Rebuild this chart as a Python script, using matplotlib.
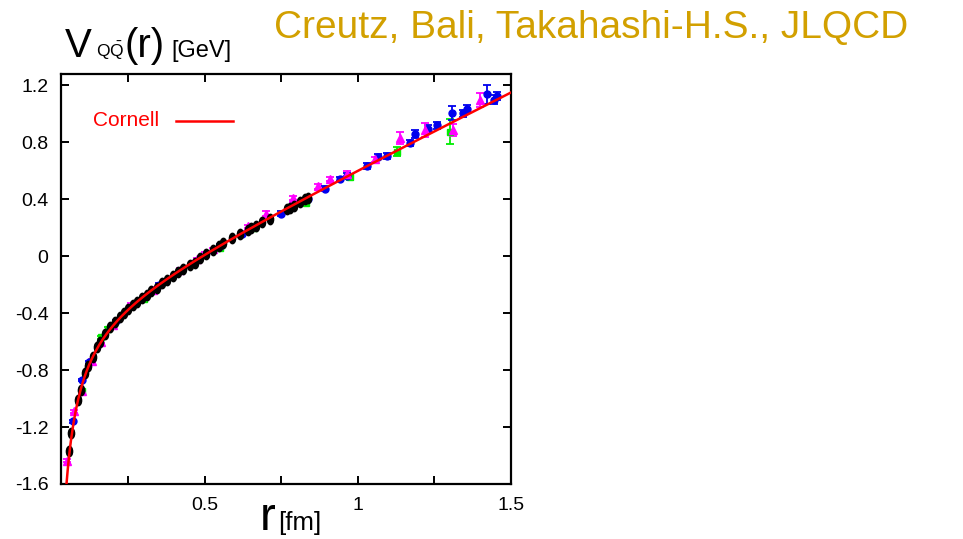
import numpy as np
import matplotlib
matplotlib.use("Agg")
import matplotlib.pyplot as plt
from matplotlib.markers import MarkerStyle
from matplotlib.transforms import Affine2D

plt.rcParams['font.family'] = ['Liberation Sans', 'DejaVu Sans']
plt.rcParams['mathtext.fontset'] = 'custom'
plt.rcParams['mathtext.rm'] = 'Liberation Sans'
plt.rcParams['mathtext.it'] = 'Liberation Sans'

# static quark potential, r in fm, V in GeV
r_black = [0.057, 0.064, 0.084, 0.094, 0.108, 0.118, 0.135, 0.146, 0.156, 0.173,
           0.19, 0.205, 0.222, 0.237, 0.25, 0.265, 0.277, 0.293, 0.31, 0.325,
           0.342, 0.36, 0.375, 0.396, 0.413, 0.43, 0.45, 0.467, 0.484, 0.505,
           0.527, 0.545, 0.56, 0.59, 0.615, 0.64, 0.652, 0.668, 0.686, 0.712,
           0.767, 0.778, 0.79, 0.81, 0.826, 0.837]
V_black = [-1.37, -1.24, -1.01, -0.94, -0.82, -0.77, -0.71, -0.64, -0.60, -0.545,
           -0.50, -0.465, -0.43, -0.40, -0.37, -0.345, -0.32, -0.29, -0.27, -0.245,
           -0.22, -0.19, -0.165, -0.137, -0.11, -0.09, -0.06, -0.045, -0.01, 0.015,
           0.045, 0.07, 0.09, 0.125, 0.155, 0.185, 0.195, 0.215, 0.24, 0.262,
           0.33, 0.34, 0.355, 0.38, 0.40, 0.41]

r_blue = [0.07, 0.097, 0.122, 0.21, 0.35, 0.55, 0.62, 0.75, 0.837, 0.892,
          0.94, 0.963, 1.028, 1.066, 1.094, 1.17, 1.186, 1.23, 1.257, 1.306,
          1.344, 1.355, 1.423, 1.445, 1.453]
V_blue = [-1.16, -0.87, -0.745, -0.455, -0.20, 0.075, 0.155, 0.30, 0.405, 0.475,
          0.54, 0.565, 0.635, 0.70, 0.705, 0.795, 0.86, 0.895, 0.92, 1.005,
          1.005, 1.035, 1.137, 1.10, 1.125]
err_blue = [0.01, 0.01, 0.01, 0.01, 0.01, 0.012, 0.012, 0.015, 0.015, 0.015,
            0.015, 0.018, 0.02, 0.02, 0.02, 0.02, 0.03, 0.025, 0.025, 0.05,
            0.025, 0.025, 0.065, 0.03, 0.03]

r_mag = [0.051, 0.073, 0.1, 0.13, 0.16, 0.2, 0.26, 0.33, 0.42, 0.473,
         0.50, 0.527, 0.641, 0.70, 0.789, 0.87, 0.908, 0.963, 1.055, 1.137,
         1.219, 1.31, 1.40]
V_mag = [-1.435, -1.09, -0.95, -0.735, -0.60, -0.485, -0.34, -0.235, -0.095, -0.02,
         0.02, 0.05, 0.21, 0.30, 0.41, 0.49, 0.54, 0.58, 0.68, 0.83,
         0.886, 0.886, 1.10]
err_mag = [0.01, 0.01, 0.01, 0.01, 0.01, 0.01, 0.01, 0.01, 0.01, 0.01,
           0.01, 0.01, 0.012, 0.015, 0.015, 0.015, 0.015, 0.02, 0.02, 0.04,
           0.05, 0.04, 0.05]

r_green = [0.097, 0.162, 0.185, 0.30, 0.55, 0.66, 0.83, 0.974, 1.126, 1.30]
V_green = [-0.945, -0.57, -0.51, -0.30, 0.06, 0.195, 0.375, 0.555, 0.735, 0.875]
err_green = [0.01, 0.01, 0.01, 0.01, 0.01, 0.012, 0.015, 0.02, 0.03, 0.09]

# Cornell fit: V(r) = -A/r + sigma*r + C
A_coul = 0.06
sigma = 1.06
C_const = -0.40

xticks = [0.25, 0.5, 0.75, 1.0, 1.25, 1.5]
xticklabels = ['', '0.5', '', '1', '', '1.5']
yticks = [-1.6, -1.2, -0.8, -0.4, 0.0, 0.4, 0.8, 1.2]
yticklabels = ['-1.6', '-1.2', '-0.8', '-0.4', '0', '0.4', '0.8', '1.2']

W, H = 963, 539
fig = plt.figure(figsize=(W / 100, H / 100), dpi=100)
ax = fig.add_axes([61 / W, 1 - 484 / H, 450 / W, 410 / H])


def fx(px):
    return px / W


def fy(py):
    return 1 - py / H


eb = dict(linestyle='none', elinewidth=1.3, capsize=3, capthick=1.3, zorder=3)
ax.errorbar(r_green, V_green, yerr=err_green, marker='s', ms=4.5,
            color='#00ee00', **eb)
ax.errorbar(r_blue, V_blue, yerr=err_blue, marker='o', ms=5,
            color='#0000ee', **eb)
ax.errorbar(r_mag, V_mag, yerr=err_mag, marker='^', ms=5.5,
            color='#ff00ff', **eb)
oval = MarkerStyle('o', transform=Affine2D().scale(0.75, 1.25))
ax.plot(r_black, V_black, linestyle='none', marker=oval, ms=6,
        color='black', zorder=4)

r = np.linspace(0.03, 1.5, 400)
ax.plot(r, -A_coul / r + sigma * r + C_const, color='#ff0000', lw=1.8, zorder=5)

ax.set_xlim(0.03, 1.5)
ax.set_ylim(-1.6, 1.28)
ax.set_xticks(xticks)
ax.set_xticklabels(xticklabels)
ax.set_yticks(yticks)
ax.set_yticklabels(yticklabels)
ax.tick_params(direction='in', length=6, width=1.4, top=True, right=True,
               labelsize=14, pad=9)
for s in ax.spines.values():
    s.set_linewidth(1.6)

# legend, drawn by hand like gnuplot does
fig.text(fx(93), fy(121), 'Cornell', color='#ff0000', fontsize=15,
         va='center', ha='left')
fig.add_artist(plt.Line2D([fx(176), fx(233)], [fy(121), fy(121)],
                          color='#ff0000', lw=1.8))

# axis labels
fig.text(fx(65), fy(57), 'V', fontsize=29, va='baseline')
fig.text(fx(96), fy(57), r'$\mathrm{Q\bar{Q}}$', fontsize=12.5, va='baseline')
fig.text(fx(124), fy(57), '(r)', fontsize=29, va='baseline')
fig.text(fx(171), fy(57), '[GeV]', fontsize=17, va='baseline')

fig.text(fx(260), fy(530), 'r', fontsize=34, va='baseline')
fig.text(fx(278), fy(530), '[fm]', fontsize=18.5, va='baseline')

fig.text(fx(274), fy(38), 'Creutz, Bali, Takahashi-H.S., JLQCD',
         color='#d2a000', fontsize=28, va='baseline')

fig.savefig('out.png', dpi=100)
